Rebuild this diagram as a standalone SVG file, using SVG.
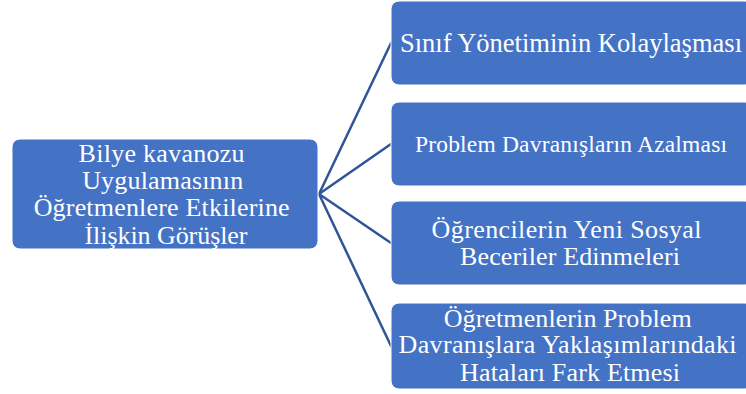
<svg xmlns="http://www.w3.org/2000/svg" width="746" height="394" viewBox="0 0 746 394">
  <style>
    .box { fill: #4472C4; stroke: #ffffff; stroke-width: 1; }
    .lbl { font-family: "Liberation Serif", "Times New Roman", serif; fill: #ffffff; text-anchor: middle; }
    .link { stroke: #2F5597; stroke-width: 2.5; fill: none; stroke-linecap: round; }
  </style>
  <rect width="746" height="394" fill="#ffffff"/>

  <g id="connectors">
    <line class="link" x1="319" y1="194" x2="391" y2="43"/>
    <line class="link" x1="319" y1="194" x2="391" y2="144"/>
    <line class="link" x1="319" y1="194" x2="391" y2="243"/>
    <line class="link" x1="319" y1="194" x2="391" y2="346"/>
  </g>

  <g id="root">
    <rect class="box" x="12" y="139" width="306" height="110" rx="8"/>
    <text class="lbl" font-size="26" lengthAdjust="spacing">
      <tspan x="165" y="162" textLength="166">Bilye kavanozu</tspan>
      <tspan x="166" y="189" textLength="161">Uygulamasının</tspan>
      <tspan x="165" y="216" textLength="256">Öğretmenlere Etkilerine</tspan>
      <tspan x="166" y="244" textLength="163">İlişkin Görüşler</tspan>
    </text>
  </g>

  <g id="n1">
    <rect class="box" x="391" y="1" width="362" height="84" rx="8"/>
    <text class="lbl" font-size="26.5" x="571" y="52" textLength="342" lengthAdjust="spacing">Sınıf Yönetiminin Kolaylaşması</text>
  </g>

  <g id="n2">
    <rect class="box" x="391" y="102" width="362" height="84" rx="8"/>
    <text class="lbl" font-size="23.5" x="571" y="152" textLength="312" lengthAdjust="spacing">Problem Davranışların Azalması</text>
  </g>

  <g id="n3">
    <rect class="box" x="391" y="201" width="362" height="84" rx="8"/>
    <text class="lbl" font-size="26">
      <tspan x="570" y="238" textLength="270" lengthAdjust="spacing">Öğrencilerin Yeni Sosyal</tspan>
      <tspan x="570" y="265" textLength="220" lengthAdjust="spacing">Beceriler Edinmeleri</tspan>
    </text>
  </g>

  <g id="n4">
    <rect class="box" x="391" y="303" width="362" height="86" rx="8"/>
    <text class="lbl" font-size="26">
      <tspan x="571" y="327" textLength="248" lengthAdjust="spacing">Öğretmenlerin Problem</tspan>
      <tspan x="571" y="353" textLength="338" lengthAdjust="spacing">Davranışlara Yaklaşımlarındaki</tspan>
      <tspan x="570" y="381" textLength="220" lengthAdjust="spacing">Hataları Fark Etmesi</tspan>
    </text>
  </g>
</svg>
